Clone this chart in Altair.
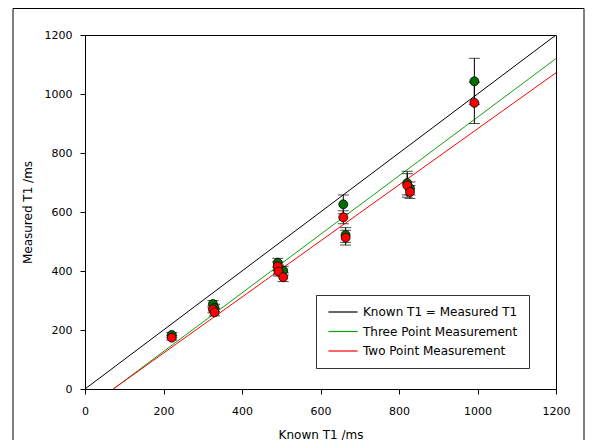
import altair as alt
import pandas as pd

# ---- data ----
known_t1 = [221, 326, 330, 491, 493, 505, 658, 664, 821, 828, 992]
three_pt = [183, 288, 275, 428, 405, 401, 626, 522, 698, 680, 1043]
three_err = [8, 12, 12, 15, 15, 15, 32, 25, 40, 22, 78]
two_pt = [174, 270, 260, 416, 398, 379, 582, 513, 690, 668, 970]
two_err = [8, 12, 12, 15, 15, 15, 22, 25, 40, 22, 70]

series_names = ["Known T1 = Measured T1", "Three Point Measurement", "Two Point Measurement"]
line_colors = ["#000000", "#10a010", "#ff0000"]
point_fills = {"Three Point Measurement": "#006e00", "Two Point Measurement": "#ff0000"}

line_x = {
    "Known T1 = Measured T1": [0, 1200],
    "Three Point Measurement": [72, 1200],
    "Two Point Measurement": [72, 1200],
}
line_y = {
    "Known T1 = Measured T1": [0, 1200],
    "Three Point Measurement": [0, 1120],
    "Two Point Measurement": [0, 1072],
}

# ---- build tables ----
lines_rows = []
for s in series_names:
    for i, (xv, yv) in enumerate(zip(line_x[s], line_y[s])):
        lines_rows.append({"series": s, "x": xv, "y": yv, "order": i})
lines_df = pd.DataFrame(lines_rows)

pts_rows = []
for name, vals, errs in [("Three Point Measurement", three_pt, three_err),
                         ("Two Point Measurement", two_pt, two_err)]:
    for xv, yv, ev in zip(known_t1, vals, errs):
        pts_rows.append({"series": name, "x": xv, "y": yv, "lo": yv - ev, "hi": yv + ev,
                         "fillc": point_fills[name]})
pts_df = pd.DataFrame(pts_rows)
green_df = pts_df[pts_df.series == "Three Point Measurement"]
red_df = pts_df[pts_df.series == "Two Point Measurement"]

W, H = 471, 354
xscale = alt.Scale(domain=[0, 1200], nice=False, zero=False)
yscale = alt.Scale(domain=[0, 1200], nice=False, zero=False)
ticks = list(range(0, 1201, 200))

x_axis = alt.Axis(title="Known T1 /ms", values=ticks, grid=False, tickSize=5, format="d",
                  labelPadding=11, labelFlush=False, titleBaseline="alphabetic", titleY=49)
y_axis = alt.Axis(title="Measured T1 /ms", values=ticks, grid=False, tickSize=5, format="d",
                  labelPadding=8, labelFlush=False, titlePadding=10)

frame = alt.Chart(pd.DataFrame({"a": [0]})).mark_rect(
    fill=None, fillOpacity=0, stroke="#000000", strokeWidth=1
).encode(x=alt.value(-72), x2=alt.value(499), y=alt.value(-26.5), y2=alt.value(460))

lines = alt.Chart(lines_df).mark_line(strokeWidth=1, clip=True).encode(
    x=alt.X("x:Q", scale=xscale, axis=x_axis),
    y=alt.Y("y:Q", scale=yscale, axis=y_axis),
    color=alt.Color("series:N",
                    scale=alt.Scale(domain=series_names, range=line_colors),
                    sort=series_names,
                    legend=alt.Legend(title=None, orient="none", legendX=231, legendY=260,
                                      symbolType="M-5,0L5,0", symbolSize=34,
                                      symbolOffset=10, symbolStrokeWidth=1.2,
                                      strokeColor="#333333", fillColor="#ffffff",
                                      padding=11, rowPadding=7.5, labelOffset=14,
                                      labelFontSize=12, labelFont="DejaVu Sans",
                                      labelColor="#000000", labelLimit=300)),
    order="order:Q",
    detail="series:N",
)


def err_layer(df):
    bars = alt.Chart(df).mark_rule(color="#000000", strokeWidth=1).encode(
        x="x:Q", y="lo:Q", y2="hi:Q")
    cap_lo = alt.Chart(df).mark_tick(color="#000000", thickness=1, size=11, orient="horizontal").encode(
        x="x:Q", y="lo:Q")
    cap_hi = alt.Chart(df).mark_tick(color="#000000", thickness=1, size=11, orient="horizontal").encode(
        x="x:Q", y="hi:Q")
    return bars + cap_lo + cap_hi


def pt_layer(df):
    return alt.Chart(df).mark_point(filled=True, size=80, stroke="#000000",
                                    strokeWidth=0.8, opacity=1, shape="circle").encode(
        x="x:Q", y="y:Q",
        fill=alt.Fill("fillc:N", scale=None, legend=None),
    )


chart = alt.layer(
    frame,
    lines,
    err_layer(green_df),
    err_layer(red_df),
    pt_layer(green_df),
    pt_layer(red_df),
).properties(
    width=W, height=H,
    background="#ffffff",
    autosize=alt.AutoSizeParams(type="none"),
    padding={"left": 77, "top": 27, "right": 29, "bottom": 51},
).configure_view(
    stroke="#000000", strokeWidth=1
).configure_axis(
    domainColor="#000000", tickColor="#000000", labelColor="#000000", titleColor="#000000",
    labelFont="DejaVu Sans", titleFont="DejaVu Sans", labelFontSize=11, titleFontSize=12,
    titleFontWeight="normal", domainWidth=1, tickWidth=1,
)

chart.save("out.html", embed_options={"renderer": "svg", "actions": False})
